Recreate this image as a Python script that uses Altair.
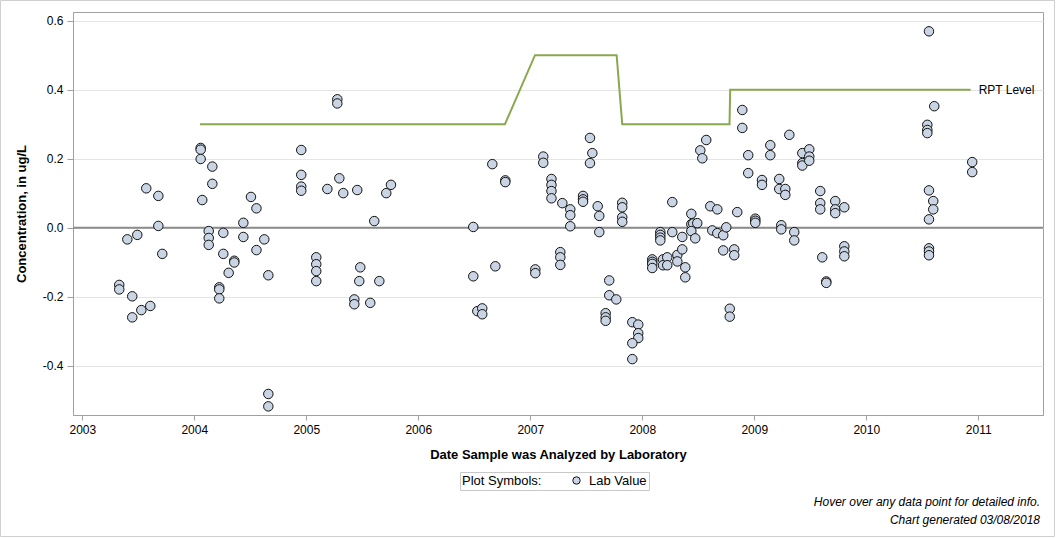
import altair as alt
import pandas as pd

# Decimal year of lab analysis and measured concentration (ug/L)
years = [
    2003.330, 2003.330, 2003.402, 2003.446, 2003.446, 2003.491, 2003.527, 2003.571, 2003.607, 2003.679, 2003.679, 2003.714,
    2004.057, 2004.057, 2004.057, 2004.071, 2004.129, 2004.129, 2004.129, 2004.161, 2004.161, 2004.223, 2004.223, 2004.223,
    2004.259, 2004.259, 2004.307, 2004.357, 2004.357, 2004.438, 2004.438, 2004.506, 2004.555, 2004.555, 2004.625, 2004.661,
    2004.661, 2004.661, 2004.955, 2004.955, 2004.955, 2004.955,
    2005.089, 2005.089, 2005.089, 2005.089, 2005.188, 2005.277, 2005.277, 2005.295, 2005.330, 2005.429, 2005.429, 2005.455,
    2005.473, 2005.482, 2005.571, 2005.607, 2005.652, 2005.714, 2005.756,
    2006.491, 2006.491, 2006.527, 2006.571, 2006.571, 2006.661, 2006.688, 2006.777, 2006.777,
    2007.045, 2007.045, 2007.116, 2007.116, 2007.189, 2007.189, 2007.189, 2007.189, 2007.268, 2007.268, 2007.268, 2007.286,
    2007.357, 2007.357, 2007.357, 2007.471, 2007.471, 2007.471, 2007.533, 2007.554, 2007.533, 2007.602, 2007.616, 2007.616,
    2007.673, 2007.673, 2007.673, 2007.705, 2007.705, 2007.768, 2007.821, 2007.821, 2007.821, 2007.821, 2007.911, 2007.964,
    2007.964, 2007.964, 2007.911, 2007.911,
    2008.089, 2008.089, 2008.089, 2008.089, 2008.161, 2008.161, 2008.161, 2008.161, 2008.185, 2008.185, 2008.223, 2008.223,
    2008.268, 2008.268, 2008.313, 2008.313, 2008.357, 2008.357, 2008.384, 2008.384, 2008.438, 2008.438, 2008.455, 2008.438,
    2008.473, 2008.491, 2008.518, 2008.536, 2008.571, 2008.607, 2008.670, 2008.625, 2008.670, 2008.723, 2008.750, 2008.723,
    2008.781, 2008.781, 2008.821, 2008.821, 2008.848, 2008.893, 2008.893, 2008.946, 2008.946,
    2009.009, 2009.009, 2009.009, 2009.069, 2009.069, 2009.143, 2009.143, 2009.223, 2009.223, 2009.277, 2009.277, 2009.241,
    2009.241, 2009.313, 2009.357, 2009.357, 2009.429, 2009.429, 2009.429, 2009.491, 2009.491, 2009.491, 2009.589, 2009.589,
    2009.589, 2009.607, 2009.643, 2009.643, 2009.723, 2009.723, 2009.723, 2009.804, 2009.804, 2009.804, 2009.804,
    2010.560, 2010.607, 2010.545, 2010.545, 2010.545, 2010.560, 2010.598, 2010.598, 2010.560, 2010.560, 2010.560, 2010.560,
    2010.946, 2010.946,
]
values = [
    -0.166, -0.179, -0.034, -0.199, -0.260, -0.021, -0.239, 0.114, -0.227, 0.092, 0.005, -0.076,
    0.231, 0.226, 0.199, 0.080, -0.010, -0.030, -0.050, 0.177, 0.127, -0.173, -0.179, -0.205,
    -0.015, -0.076, -0.131, -0.096, -0.101, 0.014, -0.027, 0.089, 0.056, -0.065, -0.034, -0.138,
    -0.482, -0.518, 0.225, 0.153, 0.119, 0.107,
    -0.086, -0.106, -0.126, -0.155, 0.112, 0.372, 0.360, 0.143, 0.100, -0.208, -0.222, 0.109,
    -0.155, -0.115, -0.218, 0.019, -0.155, 0.100, 0.124,
    0.002, -0.141, -0.242, -0.234, -0.251, 0.184, -0.112, 0.137, 0.132,
    -0.121, -0.132, 0.206, 0.188, 0.141, 0.124, 0.106, 0.085, -0.071, -0.086, -0.108, 0.071,
    0.053, 0.036, 0.004, 0.092, 0.082, 0.075, 0.260, 0.216, 0.187, 0.062, 0.034, -0.013,
    -0.248, -0.260, -0.270, -0.153, -0.196, -0.208, 0.072, 0.059, 0.030, 0.017, -0.274, -0.281,
    -0.306, -0.320, -0.335, -0.381,
    -0.092, -0.099, -0.105, -0.117, -0.013, -0.021, -0.029, -0.037, -0.092, -0.109, -0.086, -0.109,
    -0.013, 0.074, -0.079, -0.098, -0.027, -0.063, -0.115, -0.144, 0.040, 0.010, 0.012, -0.010,
    -0.031, 0.013, 0.224, 0.201, 0.254, 0.062, 0.053, -0.008, -0.016, -0.022, 0.001, -0.066,
    -0.235, -0.258, -0.063, -0.080, 0.045, 0.341, 0.289, 0.210, 0.158,
    0.026, 0.020, 0.014, 0.138, 0.124, 0.239, 0.210, 0.141, 0.112, 0.112, 0.095, 0.007,
    -0.005, 0.269, -0.013, -0.037, 0.216, 0.187, 0.180, 0.227, 0.206, 0.194, 0.106, 0.071,
    0.053, -0.086, -0.156, -0.160, 0.077, 0.053, 0.042, 0.059, -0.054, -0.069, -0.083,
    0.569, 0.352, 0.298, 0.283, 0.274, 0.108, 0.077, 0.053, 0.024, -0.060, -0.069, -0.080,
    0.190, 0.161,
]

# Reporting level (RPT) step line
rpt_years = [2004.051, 2006.774, 2007.042, 2007.771, 2007.821, 2008.779, 2008.785, 2010.932]
rpt_values = [0.3, 0.3, 0.5, 0.5, 0.3, 0.3, 0.4, 0.4]

y_ticks = [-0.4, -0.2, 0.0, 0.2, 0.4, 0.6]
x_ticks = [2003, 2004, 2005, 2006, 2007, 2008, 2009, 2010, 2011]

footer_lines = ["Hover over any data point for detailed info.", "Chart generated 03/08/2018"]

FONT = "Liberation Sans"
W, H = 970, 403
NB = "\u00a0"

pts = pd.DataFrame({"year": years, "value": values, "series": ["Lab Value"] * len(years)})
rpt = pd.DataFrame({"year": rpt_years, "value": rpt_values})
rpt_label = rpt.tail(1).assign(label="RPT Level")

xscale = alt.Scale(domain=[2002.917, 2011.578], nice=False, zero=False)
yscale = alt.Scale(domain=[-0.543, 0.625], nice=False, zero=False)

xaxis = alt.Axis(values=x_ticks, format="d", grid=False, title="Date Sample was Analyzed by Laboratory",
                 tickSize=5, labelPadding=4, titlePadding=13)
yaxis = alt.Axis(values=y_ticks, grid=True, title="Concentration, in ug/L",
                 labelExpr="replace(format(datum.value, '.1f'), '\u2212', '-')",
                 tickSize=6, labelPadding=4, titlePadding=14)

base_x = alt.X("year:Q", scale=xscale, axis=xaxis)
base_y = alt.Y("value:Q", scale=yscale, axis=yaxis)

zero = alt.Chart(pd.DataFrame({"value": [0.0]})).mark_rule(color="#8c8c8c", strokeWidth=2).encode(
    y=alt.Y("value:Q", scale=yscale, axis=yaxis)
)

rpt_line = alt.Chart(rpt).mark_line(color="#8aa84f", strokeWidth=2).encode(
    x=base_x, y=base_y
)

rpt_text = alt.Chart(rpt_label).mark_text(align="left", dx=8, font=FONT, fontSize=12, color="#000").encode(
    x=alt.X("year:Q", scale=xscale), y=alt.Y("value:Q", scale=yscale), text="label:N"
)

points = alt.Chart(pts).mark_point(filled=True, shape="circle", size=90, stroke="#111",
                                   strokeWidth=1, opacity=1, fillOpacity=1).encode(
    x=base_x, y=base_y,
    fill=alt.Fill("series:N", scale=alt.Scale(domain=["Lab Value"], range=["#c9d5e5"]),
                  legend=alt.Legend(title=NB + NB + "Plot Symbols:", orient="none", legendX=387, legendY=460,
                                    direction="horizontal", titleOrient="left", titlePadding=28,
                                    titleBaseline="middle", titleAnchor="middle",
                                    strokeColor="#c8c8c8", padding=2, symbolType="circle",
                                    symbolSize=55, symbolStrokeColor="#111", symbolStrokeWidth=1,
                                    titleFontWeight="normal", titleFontSize=13, labelFontSize=13,
                                    titleFont=FONT, labelFont=FONT, titleColor="#000", labelColor="#000",
                                    labelOffset=6, labelExpr="datum.label + '\u00a0\u00a0\u00a0'",
                                    fillColor="white")),
    tooltip=[alt.Tooltip("year:Q", format=".2f", title="Date"), alt.Tooltip("value:Q", title="Concentration")],
)

foot1 = alt.Chart(pd.DataFrame({"t": [footer_lines[0]]})).mark_text(
    align="right", baseline="middle", font=FONT, fontSize=12, fontStyle="italic", color="#000"
).encode(text="t:N", x=alt.value(967), y=alt.value(490))

foot2 = alt.Chart(pd.DataFrame({"t": [footer_lines[1]]})).mark_text(
    align="right", baseline="middle", font=FONT, fontSize=12, fontStyle="italic", color="#000"
).encode(text="t:N", x=alt.value(967), y=alt.value(508))

frame = alt.Chart(pd.DataFrame({"a": [0]})).mark_rect(fill=None, stroke="#d0d0d0", strokeWidth=1).encode(
    x=alt.value(-72.5), x2=alt.value(981.5), y=alt.value(-11.5), y2=alt.value(524.5)
)

chart = alt.layer(frame, zero, rpt_line, points, rpt_text, foot1, foot2).properties(
    width=W, height=H,
    autosize=alt.AutoSizeParams(type="none"),
    padding={"left": 73, "top": 12, "right": 13, "bottom": 123},
    background="white",
).configure_view(stroke="#a0a0a0", strokeWidth=1).configure_axis(
    labelFont=FONT, titleFont=FONT, labelFontSize=12, titleFontSize=13, titleFontWeight="bold",
    labelColor="#000", titleColor="#000", domainColor="#a0a0a0", tickColor="#a0a0a0",
    gridColor="#e4e4e4", labelFlush=False,
)

chart.save("out.html", embed_options={"renderer": "svg", "actions": False})
